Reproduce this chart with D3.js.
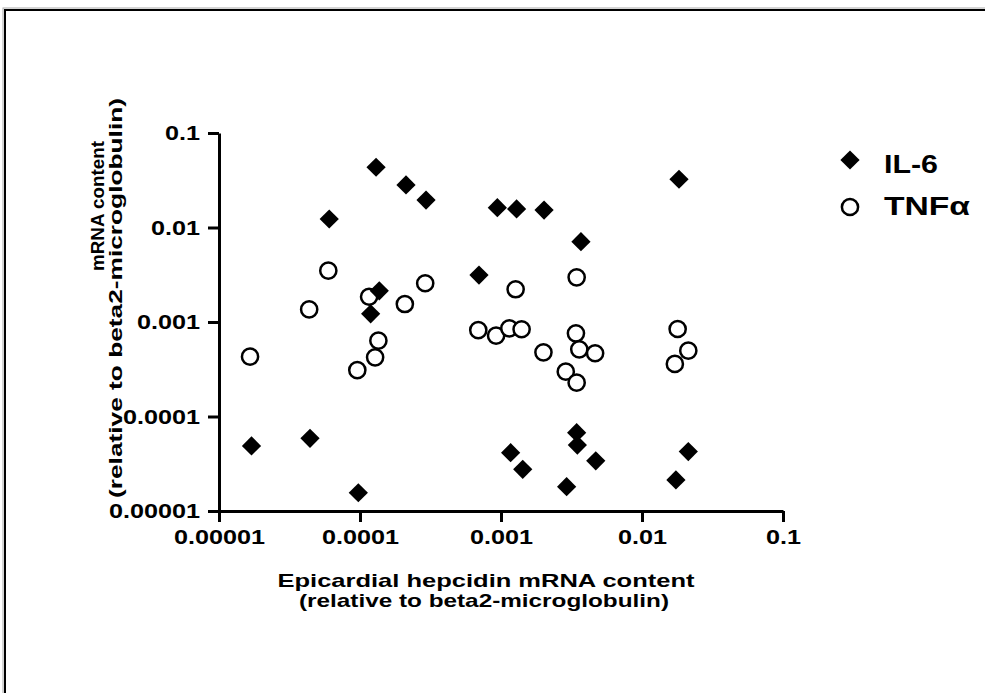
<!DOCTYPE html>
<html>
<head>
<meta charset="utf-8">
<script src="https://cdn.jsdelivr.net/npm/d3@7"></script>
<style>
  html, body { margin: 0; padding: 0; background: #fff; }
  svg { display: block; }
  text { font-family: "Liberation Sans", Arial, sans-serif; font-weight: bold; fill: #000; }
</style>
</head>
<body>
<svg id="chart" width="985" height="693"></svg>
<script>
// ---- data ----
const tickValues = [0.00001, 0.0001, 0.001, 0.01, 0.1];
const tickLabels = ["0.00001", "0.0001", "0.001", "0.01", "0.1"];

const il6X = [0.000017, 0.0000442, 0.0000605, 0.0000973, 0.000119, 0.00013, 0.000137, 0.000212, 0.000294, 0.000698, 0.000942, 0.00117, 0.00129, 0.001426, 0.00202, 0.00292, 0.00344, 0.00348, 0.00369, 0.0047, 0.0174, 0.0183, 0.0213];
const il6Y = [0.0000488, 0.0000588, 0.0123, 0.0000156, 0.00122, 0.0434, 0.00214, 0.0282, 0.0195, 0.00314, 0.0162, 0.0000414, 0.0157, 0.0000276, 0.0153, 0.0000181, 0.0000675, 0.0000499, 0.00708, 0.000034, 0.0000213, 0.0324, 0.0000425];

const tnfX = [0.0000166, 0.0000436, 0.0000596, 0.0000957, 0.000116, 0.000128, 0.000135, 0.000208, 0.00029, 0.00069, 0.000923, 0.001146, 0.00127, 0.0014, 0.002, 0.00288, 0.0034, 0.00344, 0.00344, 0.00359, 0.00465, 0.0171, 0.0179, 0.0213];
const tnfY = [0.00043, 0.00136, 0.00349, 0.00031, 0.00185, 0.000423, 0.000634, 0.00155, 0.00257, 0.000822, 0.000716, 0.000857, 0.00222, 0.000838, 0.000478, 0.000298, 0.000759, 0.00297, 0.000228, 0.000514, 0.000467, 0.00036, 0.000843, 0.000497];

const seriesNames = ["IL-6", "TNF\u03B1"];
const xTitleLines = ["Epicardial hepcidin mRNA content", "(relative to beta2-microglobulin)"];
const yTitleLines = ["mRNA content", "(relative to beta2-microglobulin)"];

// ---- helpers ----
function stretch(sel, factor) {
  sel.each(function () {
    const w = this.getComputedTextLength();
    d3.select(this).attr("textLength", w * factor).attr("lengthAdjust", "spacingAndGlyphs");
  });
}

// ---- drawing ----
const svg = d3.select("#chart");

// frame
svg.append("rect").attr("x", 3).attr("y", 8).attr("width", 990).attr("height", 700)
  .attr("fill", "none").attr("stroke", "#aaa").attr("stroke-width", 1);
svg.append("rect").attr("x", 5).attr("y", 10).attr("width", 990).attr("height", 700)
  .attr("fill", "none").attr("stroke", "#000").attr("stroke-width", 2);

const x = d3.scaleLog().domain([1e-5, 0.1]).range([219, 783]);
const y = d3.scaleLog().domain([1e-5, 0.1]).range([511, 133]);

const fmt = d => tickLabels[tickValues.indexOf(d)];

const yAxis = svg.append("g").attr("transform", "translate(219,0)")
  .call(d3.axisLeft(y).tickValues(tickValues).tickFormat(fmt).tickSize(11).tickSizeOuter(0).tickPadding(8));
const xAxis = svg.append("g").attr("transform", "translate(0,511)")
  .call(d3.axisBottom(x).tickValues(tickValues).tickFormat(fmt).tickSize(11).tickSizeOuter(0).tickPadding(7));

[yAxis, xAxis].forEach(g => {
  g.select(".domain").attr("stroke", "#000").attr("stroke-width", 3);
  g.selectAll(".tick line").attr("stroke", "#000").attr("stroke-width", 3);
  g.selectAll(".tick text").style("font-family", "'Liberation Sans', Arial, sans-serif")
    .style("font-weight", "bold").style("font-size", "21px").attr("fill", "#000");
  stretch(g.selectAll(".tick text"), 1.2);
});

// markers
const diamondPath = d3.symbol().type(d3.symbolSquare).size(185)();
const circleR = 8.1;

const tnfData = tnfX.map((v, i) => ({ x: v, y: tnfY[i] }));
const il6Data = il6X.map((v, i) => ({ x: v, y: il6Y[i] }));

svg.append("g").selectAll("circle").data(tnfData).join("circle")
  .attr("cx", d => x(d.x)).attr("cy", d => y(d.y)).attr("r", circleR)
  .attr("fill", "#fff").attr("stroke", "#000").attr("stroke-width", 2.5);

svg.append("g").selectAll("path").data(il6Data).join("path")
  .attr("d", diamondPath)
  .attr("transform", d => `translate(${x(d.x)},${y(d.y)}) rotate(45)`)
  .attr("fill", "#000");

// legend
const leg = svg.append("g");
leg.append("path").attr("d", diamondPath).attr("transform", "translate(850,160) rotate(45)").attr("fill", "#000");
leg.append("circle").attr("cx", 850).attr("cy", 207).attr("r", circleR)
  .attr("fill", "#fff").attr("stroke", "#000").attr("stroke-width", 2.5);
leg.append("text").attr("x", 884).attr("y", 173).style("font-size", "25px")
  .attr("textLength", 54).attr("lengthAdjust", "spacingAndGlyphs").text(seriesNames[0]);
leg.append("text").attr("x", 884).attr("y", 215).style("font-size", "25px")
  .attr("textLength", 86).attr("lengthAdjust", "spacingAndGlyphs").text(seriesNames[1]);

// x title
const xt = svg.append("g");
xt.append("text").attr("x", 486).attr("y", 587).attr("text-anchor", "middle").style("font-size", "19px")
  .attr("textLength", 417).attr("lengthAdjust", "spacingAndGlyphs").text(xTitleLines[0]);
xt.append("text").attr("x", 484).attr("y", 607).attr("text-anchor", "middle").style("font-size", "19px")
  .attr("textLength", 370).attr("lengthAdjust", "spacingAndGlyphs").text(xTitleLines[1]);

// y title
const yt = svg.append("g");
yt.append("text").attr("transform", "translate(104,206) rotate(-90)").attr("text-anchor", "middle")
  .style("font-size", "19px").attr("textLength", 130).attr("lengthAdjust", "spacingAndGlyphs").text(yTitleLines[0]);
yt.append("text").attr("transform", "translate(122,298) rotate(-90)").attr("text-anchor", "middle")
  .style("font-size", "19px").attr("textLength", 400).attr("lengthAdjust", "spacingAndGlyphs").text(yTitleLines[1]);
</script>
</body>
</html>
